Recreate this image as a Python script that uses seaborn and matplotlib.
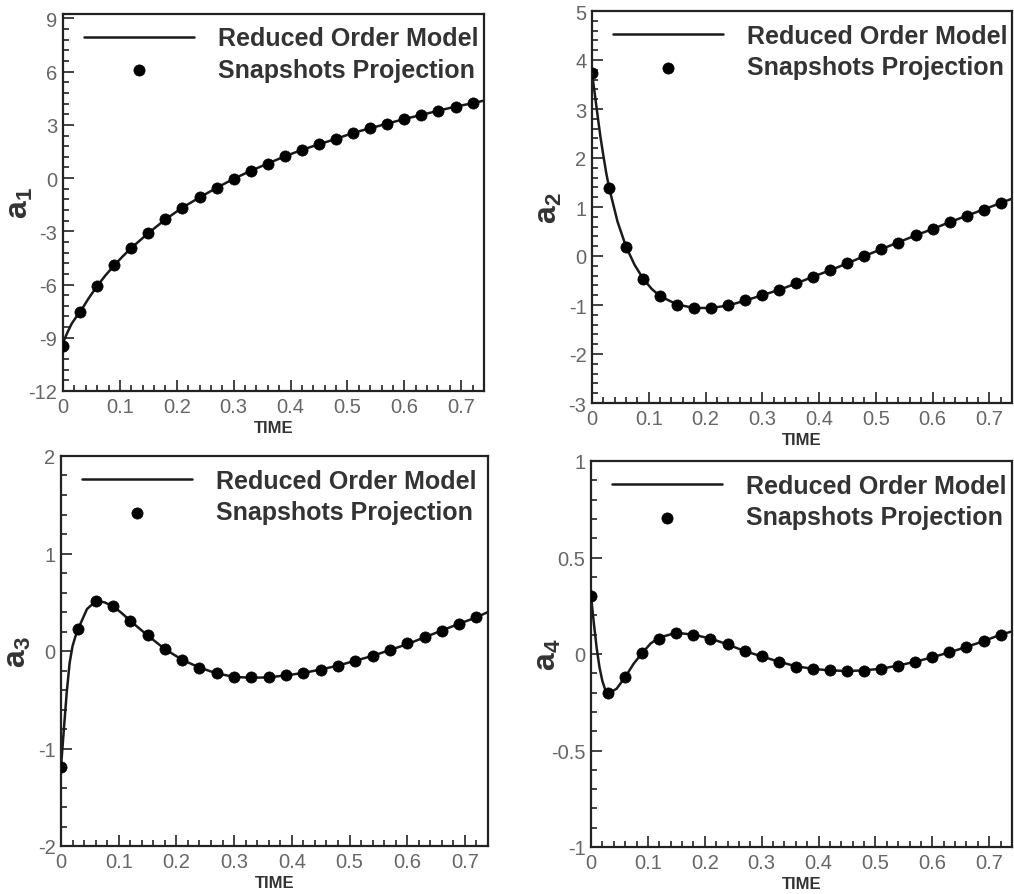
import matplotlib
matplotlib.use("Agg")
import matplotlib.pyplot as plt
import seaborn as sns
from matplotlib.ticker import MultipleLocator, AutoMinorLocator, FuncFormatter

# --------- Data ---------
t_snap = [0.00, 0.03, 0.06, 0.09, 0.12, 0.15, 0.18, 0.21, 0.24, 0.27, 0.30, 0.33, 0.36,
          0.39, 0.42, 0.45, 0.48, 0.51, 0.54, 0.57, 0.60, 0.63, 0.66, 0.69, 0.72]

t_rom = [0.000, 0.005, 0.010, 0.015, 0.020, 0.025, 0.030, 0.045, 0.060, 0.075, 0.090,
         0.105, 0.120, 0.150, 0.180, 0.210, 0.240, 0.270, 0.300, 0.330, 0.360, 0.390,
         0.420, 0.450, 0.480, 0.510, 0.540, 0.570, 0.600, 0.630, 0.660, 0.690, 0.720, 0.740]

a1_snap = [-9.45, -7.55, -6.08, -4.92, -3.94, -3.10, -2.33, -1.66, -1.09, -0.55, -0.04, 0.41,
           0.82, 1.23, 1.59, 1.91, 2.21, 2.55, 2.81, 3.07, 3.33, 3.56, 3.80, 4.03, 4.22]
a1_rom = [-9.30, -8.90, -8.55, -8.22, -7.98, -7.75, -7.55, -6.78, -6.08, -5.47, -4.92, -4.41,
          -3.94, -3.10, -2.33, -1.66, -1.09, -0.55, -0.04, 0.41, 0.82, 1.23, 1.59, 1.91, 2.21,
          2.55, 2.81, 3.07, 3.33, 3.56, 3.80, 4.03, 4.22, 4.37]

a2_snap = [3.74, 1.38, 0.19, -0.46, -0.82, -0.99, -1.06, -1.06, -1.01, -0.90, -0.80, -0.70,
           -0.56, -0.42, -0.29, -0.15, 0.00, 0.15, 0.27, 0.43, 0.55, 0.69, 0.82, 0.94, 1.08]
a2_rom = [3.74, 3.30, 2.85, 2.42, 2.05, 1.70, 1.40, 0.70, 0.19, -0.18, -0.46, -0.67, -0.82,
          -0.99, -1.06, -1.06, -1.01, -0.91, -0.80, -0.69, -0.56, -0.42, -0.29, -0.15, 0.00,
          0.14, 0.28, 0.42, 0.55, 0.69, 0.82, 0.95, 1.08, 1.17]

a3_snap = [-1.19, 0.225, 0.51, 0.46, 0.31, 0.16, 0.02, -0.09, -0.17, -0.23, -0.27, -0.27,
           -0.27, -0.25, -0.23, -0.19, -0.15, -0.10, -0.05, 0.01, 0.08, 0.14, 0.21, 0.28, 0.345]
a3_rom = [-1.19, -0.80, -0.42, -0.12, 0.05, 0.15, 0.23, 0.43, 0.51, 0.50, 0.46, 0.39, 0.31,
          0.16, 0.02, -0.09, -0.17, -0.23, -0.265, -0.275, -0.27, -0.25, -0.225, -0.19, -0.15,
          -0.10, -0.05, 0.01, 0.07, 0.14, 0.21, 0.28, 0.345, 0.40]

a4_snap = [0.30, -0.20, -0.12, 0.005, 0.08, 0.11, 0.10, 0.08, 0.05, 0.015, -0.012, -0.04,
           -0.065, -0.078, -0.085, -0.09, -0.086, -0.076, -0.06, -0.04, -0.017, 0.009, 0.036,
           0.067, 0.10]
a4_rom = [0.30, 0.16, 0.03, -0.07, -0.14, -0.185, -0.205, -0.18, -0.12, -0.05, 0.005, 0.055,
          0.085, 0.11, 0.10, 0.08, 0.05, 0.015, -0.012, -0.04, -0.063, -0.077, -0.085, -0.088,
          -0.085, -0.076, -0.06, -0.04, -0.017, 0.009, 0.036, 0.067, 0.10, 0.117]

y_labels = ["a$_1$", "a$_2$", "a$_3$", "a$_4$"]
y_limits = [(-12, 9.25), (-3, 5), (-2, 2), (-1, 1)]
y_steps = [3, 1, 1, 0.5]

# --------- Style ---------
sns.set_style("ticks")
plt.rcParams["font.family"] = ["Liberation Sans", "DejaVu Sans"]
plt.rcParams["mathtext.default"] = "regular"
plt.rcParams["axes.unicode_minus"] = False

fig = plt.figure(figsize=(10.14, 8.95), dpi=100)
W, H = 1014, 895
boxes = [(63, 15, 484, 392), (592, 12, 1012, 404), (61, 457, 488, 847), (591, 462, 1012, 848)]

series = [(a1_rom, a1_snap), (a2_rom, a2_snap), (a3_rom, a3_snap), (a4_rom, a4_snap)]

for i, (rom, snap) in enumerate(series):
    l, t, r, b = boxes[i]
    ax = fig.add_axes([l / W, 1 - b / H, (r - l) / W, (b - t) / H])
    sns.lineplot(x=t_rom, y=rom, ax=ax, color="#1a1a1a", linewidth=1.8,
                 label="Reduced Order Model", sort=False)
    sns.scatterplot(x=t_snap, y=snap, ax=ax, color="black", s=65, edgecolor="black",
                    linewidth=0.5, label="Snapshots Projection", zorder=3)

    ax.set_xlim(0, 0.74)
    ax.set_ylim(*y_limits[i])
    ax.xaxis.set_major_locator(MultipleLocator(0.1))
    ax.yaxis.set_major_locator(MultipleLocator(y_steps[i]))
    ax.xaxis.set_minor_locator(AutoMinorLocator(5))
    ax.yaxis.set_minor_locator(AutoMinorLocator(5))
    fmt = FuncFormatter(lambda v, p: "%g" % round(v, 3))
    ax.xaxis.set_major_formatter(fmt)
    ax.yaxis.set_major_formatter(fmt)

    ax.tick_params(which="both", direction="in", top=False, right=False,
                   colors="#222222", labelcolor="#666666", labelsize=14.5, width=1.2)
    ax.tick_params(which="major", length=8, pad=4)
    ax.tick_params(which="minor", length=4)
    for sp in ax.spines.values():
        sp.set_linewidth(1.6)
        sp.set_color("#222222")

    ax.set_xlabel("TIME", fontsize=12, fontweight="bold", color="#333333", labelpad=3)
    ax.set_ylabel(y_labels[i], fontsize=23, fontweight="bold", color="#333333")
    ax.yaxis.set_label_coords(-0.066, 0.5)

    ax.legend(loc="upper left", bbox_to_anchor=(0.05, 0.967), frameon=False,
              handlelength=4.4, handletextpad=0.95, labelspacing=0.3,
              borderpad=0, borderaxespad=0, prop={"weight": "bold", "size": 18},
              labelcolor="#333333", markerscale=1.0)

fig.savefig("out.png", dpi=100)
